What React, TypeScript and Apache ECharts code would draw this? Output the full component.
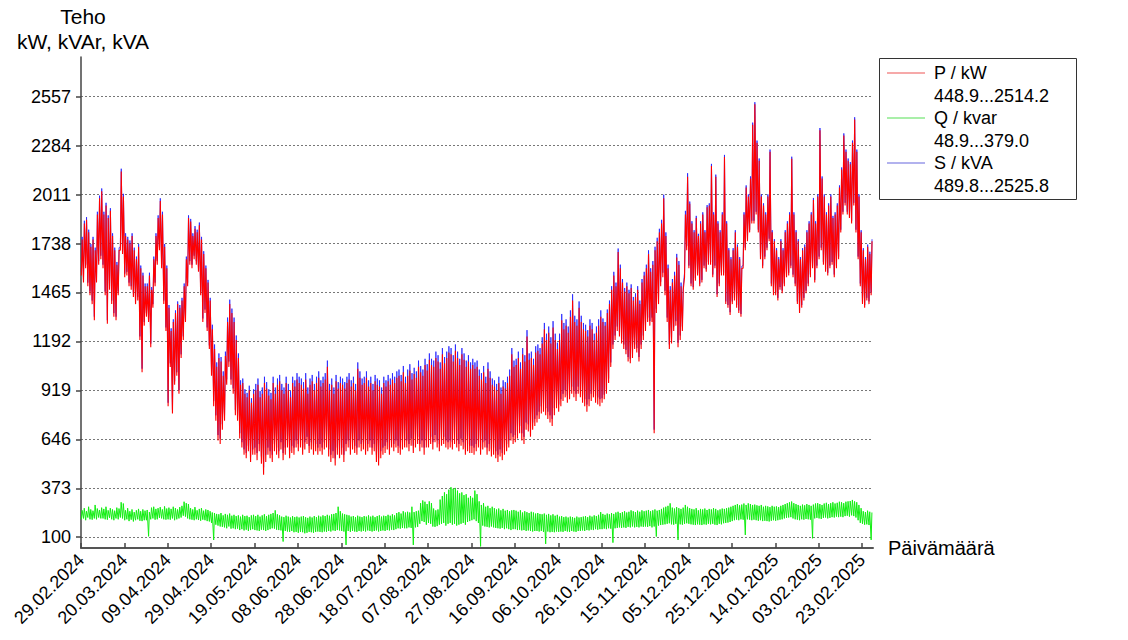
import React, { useEffect, useRef } from "react";
import * as echarts from "echarts";

const FONT = '"Liberation Sans", Arial, Helvetica, sans-serif';
const START_UTC = Date.UTC(2024, 1, 29);
const X_MAX_DAYS = 365;
const X_TICKS = [0, 20, 40, 60, 80, 100, 120, 140, 160, 180, 200, 220, 240, 260, 280, 300, 320, 340, 360];
const Y_TICKS = [100, 373, 646, 919, 1192, 1465, 1738, 2011, 2284, 2557];

const LEGEND_ITEMS = [
  { name: "P / kW", range: "448.9...2514.2", color: "#ee5555" },
  { name: "Q / kvar", range: "48.9...379.0", color: "#55e055" },
  { name: "S / kVA", range: "489.8...2525.8", color: "#6666dd" },
];

// P / kW: daily peak and daily minimum (one value per day from 29.02.2024)
const pHi = [
  1760, 1850, 1870, 1800, 1720, 1760, 1700, 1900, 1990, 2030,
  1900, 1950, 1880, 1920, 1780, 1700, 1620, 1700, 2140, 2000,
  1780, 1760, 1740, 1780, 1700, 1650, 1720, 1600, 1560, 1500,
  1500, 1560, 1480, 1650, 1780, 1880, 1975, 1900, 1720, 1600,
  1380, 1250, 1300, 1350, 1400, 1380, 1420, 1500, 1650, 1880,
  1860, 1780, 1820, 1800, 1840, 1760, 1680, 1600, 1520, 1420,
  1260, 1150, 1050, 1100, 1080, 1000, 1110, 1300, 1400, 1350,
  1300, 1200, 1100, 950, 960, 900, 880, 920, 850, 900,
  920, 950, 880, 900, 960, 930, 890, 870, 960, 900,
  950, 970, 920, 900, 960, 920, 880, 960, 940, 980,
  960, 950, 930, 980, 900, 950, 970, 920, 960, 990,
  940, 960, 980, 1050, 920, 950, 900, 970, 930, 960,
  950, 930, 960, 980, 940, 960, 920, 1040, 990, 950,
  960, 990, 940, 960, 920, 970, 950, 940, 900, 960,
  940, 970, 950, 980, 960, 990, 1000, 970, 1020, 960,
  1000, 1030, 980, 1010, 990, 1050, 1020, 1000, 1060, 1030,
  1090, 1060, 1050, 1100, 1080, 1040, 1120, 1070, 1100, 1130,
  1120, 1080, 1140, 1100, 1060, 1120, 1090, 1050, 1080, 1040,
  1060, 1040, 1050, 1000, 980, 1020, 960, 1040, 990, 950,
  940, 920, 960, 900, 940, 930, 960, 1000, 1120, 1050,
  1060, 1100, 1040, 1120, 1080, 1220, 1090, 1100, 1060, 1130,
  1140, 1120, 1180, 1260, 1200, 1240, 1180, 1270, 1200, 1150,
  1200, 1310, 1260, 1280, 1240, 1330, 1420, 1300, 1280, 1380,
  1300, 1260, 1250, 1220, 1280, 1260, 1200, 1240, 1280, 1330,
  1300, 1280, 1350, 1400, 1480, 1560, 1500, 1690, 1600, 1520,
  1470, 1500, 1460, 1490, 1420, 1440, 1480, 1400, 1520, 1560,
  1600, 1680, 1580, 1620, 1700, 1750, 1800, 1850, 1990, 1780,
  1600, 1480, 1520, 1560, 1660, 1620, 1500, 1480, 1900, 2110,
  1960, 1850, 1800, 1880, 1780, 1850, 1900, 1800, 1940, 1950,
  2170, 1900, 2110, 1850, 1800, 1900, 2220, 1850, 1700, 1650,
  1700, 1800, 1720, 1650, 1600, 1900, 2050, 2000, 2100, 2400,
  2514, 2300, 2200, 2000, 1950, 1900, 2000, 2250, 1800, 1750,
  1700, 1650, 1750, 1700, 1800, 1850, 1900, 2210, 1900, 1800,
  1750, 1650, 1700, 1720, 1800, 1850, 1900, 1980, 1850, 2000,
  2370, 2100, 2000, 1900, 1950, 2000, 1880, 1900, 1950, 2050,
  2150, 2340, 2250, 2200, 2180, 2300, 2430, 2250, 2000, 1800,
  1700, 1650, 1720, 1680, 1750,
];
const pLo = [
  1560, 1520, 1600, 1500, 1450, 1400, 1310, 1520, 1620, 1650,
  1600, 1450, 1290, 1480, 1400, 1330, 1310, 1450, 1700, 1680,
  1550, 1560, 1500, 1480, 1440, 1400, 1420, 1200, 1020, 1280,
  1330, 1300, 1160, 1380, 1500, 1620, 1700, 1600, 1400, 1250,
  830, 1050, 790, 950, 1000, 900, 1100, 1200, 1300, 1500,
  1620, 1600, 1650, 1620, 1580, 1450, 1300, 1350, 1250, 1150,
  1000, 830, 750, 640, 620, 700, 750, 950, 1050, 950,
  900, 780, 750, 650, 600, 560, 540, 580, 520, 560,
  560, 530, 580, 510, 449, 520, 560, 540, 520, 580,
  560, 540, 590, 530, 560, 600, 540, 570, 560, 600,
  580, 600, 560, 590, 620, 570, 590, 560, 580, 560,
  580, 560, 590, 600, 550, 520, 540, 500, 560, 540,
  560, 520, 580, 600, 560, 590, 570, 560, 600, 580,
  590, 560, 580, 600, 560, 580, 520, 500, 540, 560,
  570, 590, 560, 600, 580, 600, 570, 560, 590, 600,
  600, 580, 610, 570, 600, 620, 580, 600, 560, 600,
  600, 620, 590, 630, 600, 580, 610, 620, 600, 590,
  600, 590, 620, 600, 580, 610, 590, 560, 580, 570,
  570, 560, 580, 600, 560, 590, 600, 560, 580, 550,
  560, 540, 520, 550, 530, 560, 580, 600, 640, 620,
  630, 650, 680, 640, 620, 700, 690, 660, 700, 720,
  740, 760, 790, 800, 780, 760, 740, 720, 780, 820,
  800, 830, 860, 880, 850, 870, 900, 880, 860, 900,
  880, 850, 830, 800, 830, 860, 880, 850, 840, 830,
  850, 870, 900, 960, 1050, 1150, 1200, 1250, 1220, 1180,
  1150, 1120, 1080, 1070, 1100, 1150, 1130, 1080, 1150, 1200,
  1250, 1300, 1280, 1300, 680, 1350, 1400, 1500, 1550, 1450,
  1300, 1150, 1180, 1250, 1280, 1160, 1200, 1250, 1550, 1700,
  1600, 1500, 1480, 1530, 1560, 1500, 1520, 1600, 1580, 1620,
  1620, 1550, 1600, 1440, 1500, 1560, 1560, 1400, 1380, 1340,
  1400, 1420, 1380, 1350, 1330, 1600, 1700, 1750, 1800, 1850,
  1850, 1900, 1800, 1650, 1600, 1650, 1700, 1750, 1500, 1450,
  1450, 1420, 1480, 1460, 1500, 1550, 1560, 1600, 1550, 1500,
  1400, 1350, 1380, 1420, 1460, 1500, 1550, 1600, 1520, 1600,
  1650, 1700, 1620, 1580, 1560, 1600, 1620, 1550, 1600, 1650,
  1800, 1900, 1950, 1900, 1880, 1850, 1950, 1800, 1650, 1500,
  1400, 1380, 1420, 1400, 1450,
];

// S / kVA: daily peak and daily minimum
const sHi = [
  1775, 1865, 1885, 1815, 1735, 1775, 1715, 1915, 2005, 2045,
  1915, 1965, 1895, 1935, 1795, 1715, 1635, 1715, 2155, 2015,
  1795, 1775, 1755, 1795, 1715, 1665, 1735, 1615, 1575, 1515,
  1515, 1575, 1495, 1665, 1795, 1895, 1990, 1915, 1735, 1615,
  1395, 1265, 1315, 1365, 1415, 1395, 1435, 1515, 1665, 1895,
  1875, 1795, 1835, 1815, 1855, 1775, 1695, 1615, 1535, 1435,
  1285, 1175, 1075, 1125, 1105, 1025, 1135, 1325, 1425, 1375,
  1325, 1225, 1125, 975, 985, 925, 905, 945, 875, 925,
  955, 985, 915, 935, 995, 965, 925, 905, 995, 935,
  985, 1005, 955, 935, 995, 955, 915, 995, 975, 1015,
  995, 985, 965, 1015, 935, 985, 1005, 955, 995, 1025,
  975, 995, 1015, 1085, 955, 985, 935, 1005, 965, 995,
  985, 965, 995, 1015, 975, 995, 955, 1075, 1025, 985,
  995, 1025, 975, 995, 955, 1005, 985, 975, 935, 995,
  975, 1005, 985, 1015, 995, 1025, 1035, 1005, 1055, 995,
  1035, 1065, 1015, 1045, 1025, 1085, 1055, 1035, 1095, 1065,
  1125, 1095, 1085, 1135, 1115, 1075, 1155, 1105, 1135, 1165,
  1155, 1115, 1175, 1135, 1095, 1155, 1125, 1085, 1115, 1075,
  1095, 1075, 1085, 1035, 1015, 1055, 995, 1075, 1025, 985,
  975, 955, 995, 935, 975, 965, 995, 1035, 1155, 1085,
  1095, 1135, 1075, 1155, 1115, 1255, 1125, 1135, 1095, 1165,
  1175, 1155, 1215, 1295, 1235, 1275, 1215, 1305, 1235, 1185,
  1235, 1345, 1295, 1315, 1275, 1365, 1455, 1335, 1315, 1415,
  1335, 1295, 1285, 1255, 1315, 1295, 1235, 1275, 1315, 1365,
  1320, 1300, 1370, 1420, 1500, 1580, 1520, 1710, 1620, 1540,
  1490, 1520, 1480, 1510, 1440, 1460, 1500, 1420, 1540, 1580,
  1620, 1700, 1600, 1640, 1720, 1770, 1820, 1870, 2010, 1800,
  1620, 1500, 1540, 1580, 1680, 1640, 1520, 1500, 1920, 2130,
  1972, 1862, 1812, 1892, 1792, 1862, 1912, 1812, 1952, 1962,
  2182, 1912, 2122, 1862, 1812, 1912, 2232, 1862, 1712, 1662,
  1712, 1812, 1732, 1662, 1612, 1912, 2062, 2012, 2112, 2412,
  2526, 2312, 2212, 2012, 1962, 1912, 2012, 2262, 1812, 1762,
  1712, 1662, 1762, 1712, 1812, 1862, 1912, 2222, 1912, 1812,
  1762, 1662, 1712, 1732, 1812, 1862, 1912, 1992, 1862, 2012,
  2382, 2112, 2012, 1912, 1962, 2012, 1892, 1912, 1962, 2062,
  2162, 2352, 2262, 2212, 2192, 2312, 2442, 2262, 2012, 1812,
  1712, 1662, 1732, 1692, 1762,
];
const sLo = [
  1580, 1540, 1620, 1520, 1470, 1420, 1330, 1540, 1640, 1670,
  1620, 1470, 1310, 1500, 1420, 1350, 1330, 1470, 1720, 1700,
  1570, 1580, 1520, 1500, 1460, 1420, 1440, 1220, 1040, 1300,
  1350, 1320, 1180, 1400, 1520, 1640, 1720, 1620, 1420, 1270,
  850, 1070, 810, 970, 1020, 920, 1120, 1220, 1320, 1520,
  1640, 1620, 1670, 1640, 1600, 1470, 1320, 1370, 1270, 1170,
  1030, 860, 780, 670, 650, 730, 780, 980, 1080, 980,
  930, 810, 780, 680, 630, 590, 570, 610, 550, 590,
  600, 570, 620, 550, 490, 560, 600, 580, 560, 620,
  600, 580, 630, 570, 600, 640, 580, 610, 600, 640,
  620, 640, 600, 630, 660, 610, 630, 600, 620, 600,
  620, 600, 630, 640, 590, 560, 580, 540, 600, 580,
  600, 560, 620, 640, 600, 630, 610, 600, 640, 620,
  630, 600, 620, 640, 600, 620, 560, 540, 580, 600,
  610, 630, 600, 640, 620, 640, 610, 600, 630, 640,
  640, 620, 650, 610, 640, 660, 620, 640, 600, 640,
  640, 660, 630, 670, 640, 620, 650, 660, 640, 630,
  640, 630, 660, 640, 620, 650, 630, 600, 620, 610,
  610, 600, 620, 640, 600, 630, 640, 600, 620, 590,
  600, 580, 560, 590, 570, 600, 620, 640, 680, 660,
  670, 690, 720, 680, 660, 740, 730, 700, 740, 760,
  780, 800, 830, 840, 820, 800, 780, 760, 820, 860,
  840, 870, 900, 920, 890, 910, 940, 920, 900, 940,
  920, 890, 870, 840, 870, 900, 920, 890, 880, 870,
  875, 895, 925, 985, 1075, 1175, 1225, 1275, 1245, 1205,
  1175, 1145, 1105, 1095, 1125, 1175, 1155, 1105, 1175, 1225,
  1275, 1325, 1305, 1325, 700, 1375, 1425, 1525, 1575, 1475,
  1325, 1175, 1205, 1275, 1305, 1185, 1225, 1275, 1575, 1725,
  1615, 1515, 1495, 1545, 1575, 1515, 1535, 1615, 1595, 1635,
  1635, 1565, 1615, 1455, 1515, 1575, 1575, 1415, 1395, 1355,
  1415, 1435, 1395, 1365, 1345, 1615, 1715, 1765, 1815, 1865,
  1865, 1915, 1815, 1665, 1615, 1665, 1715, 1765, 1515, 1465,
  1465, 1435, 1495, 1475, 1515, 1565, 1575, 1615, 1565, 1515,
  1415, 1365, 1395, 1435, 1475, 1515, 1565, 1615, 1535, 1615,
  1665, 1715, 1635, 1595, 1575, 1615, 1635, 1565, 1615, 1665,
  1815, 1915, 1965, 1915, 1895, 1865, 1965, 1815, 1665, 1515,
  1415, 1395, 1435, 1415, 1465,
];

// Q / kvar: daily peak and daily minimum
const qHi = [
  250, 262, 245, 270, 255, 248, 280, 260, 252, 265,
  258, 270, 250, 262, 255, 248, 265, 260, 295, 288,
  250, 262, 245, 255, 240, 250, 258, 245, 255, 248,
  252, 240, 265, 270, 258, 262, 268, 255, 272, 260,
  265, 258, 270, 262, 255, 268, 275, 298, 290, 285,
  262, 255, 268, 250, 258, 262, 248, 255, 252, 245,
  238, 235, 230, 228, 235, 222, 230, 225, 232, 220,
  225, 218, 222, 215, 225, 218, 220, 212, 222, 225,
  218, 225, 215, 222, 228, 218, 225, 230, 235, 250,
  228, 222, 215, 212, 220, 215, 210, 218, 212, 215,
  210, 215, 218, 212, 208, 215, 210, 218, 212, 220,
  215, 222, 218, 225, 220, 228, 230, 235, 270, 245,
  232, 228, 225, 222, 215, 218, 212, 220, 215, 212,
  218, 215, 222, 215, 220, 212, 218, 222, 215, 220,
  218, 225, 220, 228, 222, 235, 240, 232, 245, 238,
  242, 238, 270, 240, 245, 248, 290, 305, 298, 285,
  300, 290, 260, 250, 255, 310, 330, 350, 340, 365,
  379, 370, 375, 360, 345, 350, 335, 340, 320, 330,
  320, 360, 340, 300, 280, 290, 270, 275, 262, 270,
  262, 255, 260, 250, 258, 248, 252, 245, 250, 252,
  248, 242, 250, 238, 245, 240, 235, 242, 238, 232,
  235, 230, 228, 232, 225, 230, 222, 228, 220, 225,
  215, 218, 212, 215, 210, 215, 212, 208, 215, 210,
  212, 215, 218, 212, 220, 215, 222, 218, 225, 240,
  230, 225, 232, 228, 235, 230, 238, 242, 235, 240,
  245, 238, 242, 250, 245, 240, 248, 242, 250, 245,
  248, 252, 245, 250, 255, 248, 252, 258, 265, 270,
  275, 289, 265, 260, 268, 262, 258, 265, 280, 270,
  262, 258, 255, 262, 250, 258, 255, 260, 252, 258,
  255, 262, 258, 250, 255, 260, 258, 262, 265, 270,
  275, 280, 285, 278, 282, 288, 280, 289, 285, 280,
  282, 278, 275, 280, 270, 275, 272, 268, 275, 270,
  272, 268, 275, 280, 285, 290, 295, 299, 290, 285,
  280, 275, 282, 278, 285, 280, 275, 282, 288, 290,
  285, 280, 288, 292, 285, 290, 295, 288, 292, 298,
  295, 290, 298, 300, 302, 308, 300, 295, 280, 262,
  245, 240, 248, 242, 238,
];
const qLo = [
  200, 205, 195, 210, 200, 198, 205, 200, 210, 205,
  205, 200, 198, 208, 200, 195, 205, 200, 210, 205,
  195, 200, 190, 198, 188, 195, 200, 192, 190, 195,
  195, 105, 200, 205, 198, 200, 208, 205, 200, 198,
  200, 198, 205, 195, 200, 205, 210, 220, 215, 205,
  200, 198, 195, 200, 196, 192, 198, 195, 190, 188,
  180, 85, 170, 165, 160, 158, 155, 150, 160, 148,
  150, 145, 148, 140, 145, 138, 142, 135, 140, 145,
  140, 138, 135, 142, 140, 135, 140, 145, 150, 148,
  142, 140, 138, 76, 135, 132, 130, 135, 128, 130,
  125, 130, 128, 122, 125, 130, 128, 125, 130, 132,
  130, 128, 132, 130, 135, 132, 138, 135, 140, 138,
  135, 132, 57, 135, 130, 135, 132, 130, 135, 132,
  135, 132, 138, 135, 132, 135, 138, 132, 135, 138,
  135, 140, 138, 142, 140, 145, 150, 148, 152, 150,
  150, 155, 152, 57, 155, 158, 175, 190, 185, 170,
  180, 175, 160, 158, 162, 170, 175, 180, 165, 175,
  180, 170, 175, 165, 170, 175, 180, 170, 185, 190,
  195, 200, 190, 180, 49, 165, 160, 158, 155, 160,
  155, 152, 150, 148, 152, 145, 150, 145, 140, 145,
  145, 140, 142, 138, 140, 135, 138, 135, 132, 135,
  135, 132, 135, 130, 63, 132, 128, 130, 128, 132,
  130, 132, 130, 135, 132, 130, 135, 132, 130, 135,
  135, 138, 135, 140, 138, 142, 140, 145, 142, 145,
  145, 148, 145, 150, 148, 70, 150, 152, 155, 152,
  155, 152, 158, 155, 160, 155, 158, 155, 160, 158,
  160, 158, 162, 155, 160, 104, 165, 168, 170, 172,
  175, 178, 172, 170, 175, 85, 172, 170, 175, 178,
  175, 172, 170, 168, 172, 170, 168, 172, 170, 175,
  172, 175, 170, 168, 175, 172, 178, 180, 182, 185,
  190, 195, 198, 195, 200, 198, 113, 200, 198, 195,
  198, 195, 192, 195, 190, 192, 190, 188, 192, 195,
  192, 195, 198, 200, 205, 208, 210, 212, 205, 200,
  198, 195, 200, 198, 202, 200, 198, 94, 205, 208,
  205, 202, 208, 210, 205, 208, 212, 210, 215, 212,
  215, 212, 218, 220, 215, 222, 218, 210, 195, 180,
  175, 170, 172, 168, 85,
];

function dayLabel(d: number): string {
  const dt = new Date(START_UTC + Math.round(d) * 86400000);
  const dd = String(dt.getUTCDate()).padStart(2, "0");
  const mm = String(dt.getUTCMonth() + 1).padStart(2, "0");
  return `${dd}.${mm}.${dt.getUTCFullYear()}`;
}

// each day contributes its minimum (night) and its peak (day)
function zigzag(lo: number[], hi: number[], loAt: number, hiAt: number) {
  const out: number[][] = [];
  const n = Math.min(lo.length, hi.length);
  for (let i = 0; i < n; i++) {
    out.push([i + loAt, lo[i]]);
    out.push([i + hiAt, hi[i]]);
  }
  return out;
}

export default function App() {
  const ref = useRef<HTMLDivElement>(null);

  useEffect(() => {
    if (!ref.current) return;
    const chart = echarts.init(ref.current, null, { renderer: "svg" });

    const legendGraphics: any[] = [
      {
        type: "rect",
        shape: { x: 879.5, y: 58.5, width: 197, height: 141 },
        style: { fill: "#ffffff", stroke: "#333333", lineWidth: 1 },
        z: 100,
      },
    ];
    LEGEND_ITEMS.forEach((it, i) => {
      const y = 73 + i * 45;
      legendGraphics.push({
        type: "line",
        shape: { x1: 887, y1: y, x2: 925, y2: y },
        style: { stroke: it.color, lineWidth: 1.2 },
        z: 101,
      });
      legendGraphics.push({
        type: "text",
        x: 934,
        y: y,
        style: { text: it.name, fill: "#000", fontSize: 18, fontFamily: FONT, verticalAlign: "middle", align: "left" },
        z: 101,
      });
      legendGraphics.push({
        type: "text",
        x: 934,
        y: y + 23,
        style: { text: it.range, fill: "#000", fontSize: 18, fontFamily: FONT, verticalAlign: "middle", align: "left" },
        z: 101,
      });
    });

    const axisLineStyle = { color: "#444444", width: 1.5 };

    chart.setOption({
      animation: false,
      backgroundColor: "#ffffff",
      textStyle: { fontFamily: FONT },
      grid: { left: 81, right: 255, top: 57, bottom: 92, containLabel: false },
      xAxis: {
        type: "value",
        min: 0,
        max: X_MAX_DAYS,
        name: "Päivämäärä",
        nameLocation: "end",
        nameGap: 15,
        nameTextStyle: { fontSize: 20, color: "#000", fontFamily: FONT, align: "left", verticalAlign: "middle" },
        axisLine: { show: true, onZero: false, lineStyle: { color: "#555555", width: 2 } },
        axisTick: { show: true, inside: true, length: 5, customValues: X_TICKS, lineStyle: axisLineStyle },
        axisLabel: {
          customValues: X_TICKS,
          rotate: 45,
          margin: 9,
          fontSize: 18,
          color: "#000",
          fontFamily: FONT,
          formatter: (v: number) => dayLabel(v),
        },
        splitLine: { show: false },
      },
      yAxis: {
        type: "value",
        min: 40,
        max: 2778,
        name: "Teho\nkW, kVAr, kVA",
        nameLocation: "end",
        nameGap: 3,
        nameTextStyle: {
          fontSize: 21,
          lineHeight: 25,
          color: "#000",
          fontFamily: FONT,
          align: "center",
          padding: [0, 0, 0, 4],
        },
        axisLine: { show: true, onZero: false, lineStyle: axisLineStyle },
        axisTick: { show: true, inside: false, length: 5, customValues: Y_TICKS, lineStyle: axisLineStyle },
        axisLabel: {
          customValues: Y_TICKS,
          margin: 10,
          fontSize: 18,
          color: "#000",
          fontFamily: FONT,
          formatter: (v: number) => String(v),
        },
        splitLine: { show: true, lineStyle: { color: "#777777", width: 1, type: [2, 2] } },
      },
      series: [
        {
          name: "S / kVA",
          type: "line",
          data: zigzag(sLo, sHi, 0.15, 0.55),
          showSymbol: false,
          symbol: "none",
          silent: true,
          lineStyle: { color: "#2020ff", width: 0.8 },
          z: 2,
        },
        {
          name: "P / kW",
          type: "line",
          data: zigzag(pLo, pHi, 0.15, 0.55),
          showSymbol: false,
          symbol: "none",
          silent: true,
          lineStyle: { color: "#ff0000", width: 1.1 },
          z: 3,
        },
        {
          name: "Q / kvar",
          type: "line",
          data: zigzag(qLo, qHi, 0.15, 0.5),
          showSymbol: false,
          symbol: "none",
          silent: true,
          lineStyle: { color: "#11ee11", width: 1 },
          z: 4,
        },
      ],
      graphic: legendGraphics,
    });

    return () => {
      chart.dispose();
    };
  }, []);

  return (
    <div
      ref={ref}
      style={{ position: "absolute", left: 0, top: 0, width: 1128, height: 640, background: "#fff" }}
    />
  );
}
